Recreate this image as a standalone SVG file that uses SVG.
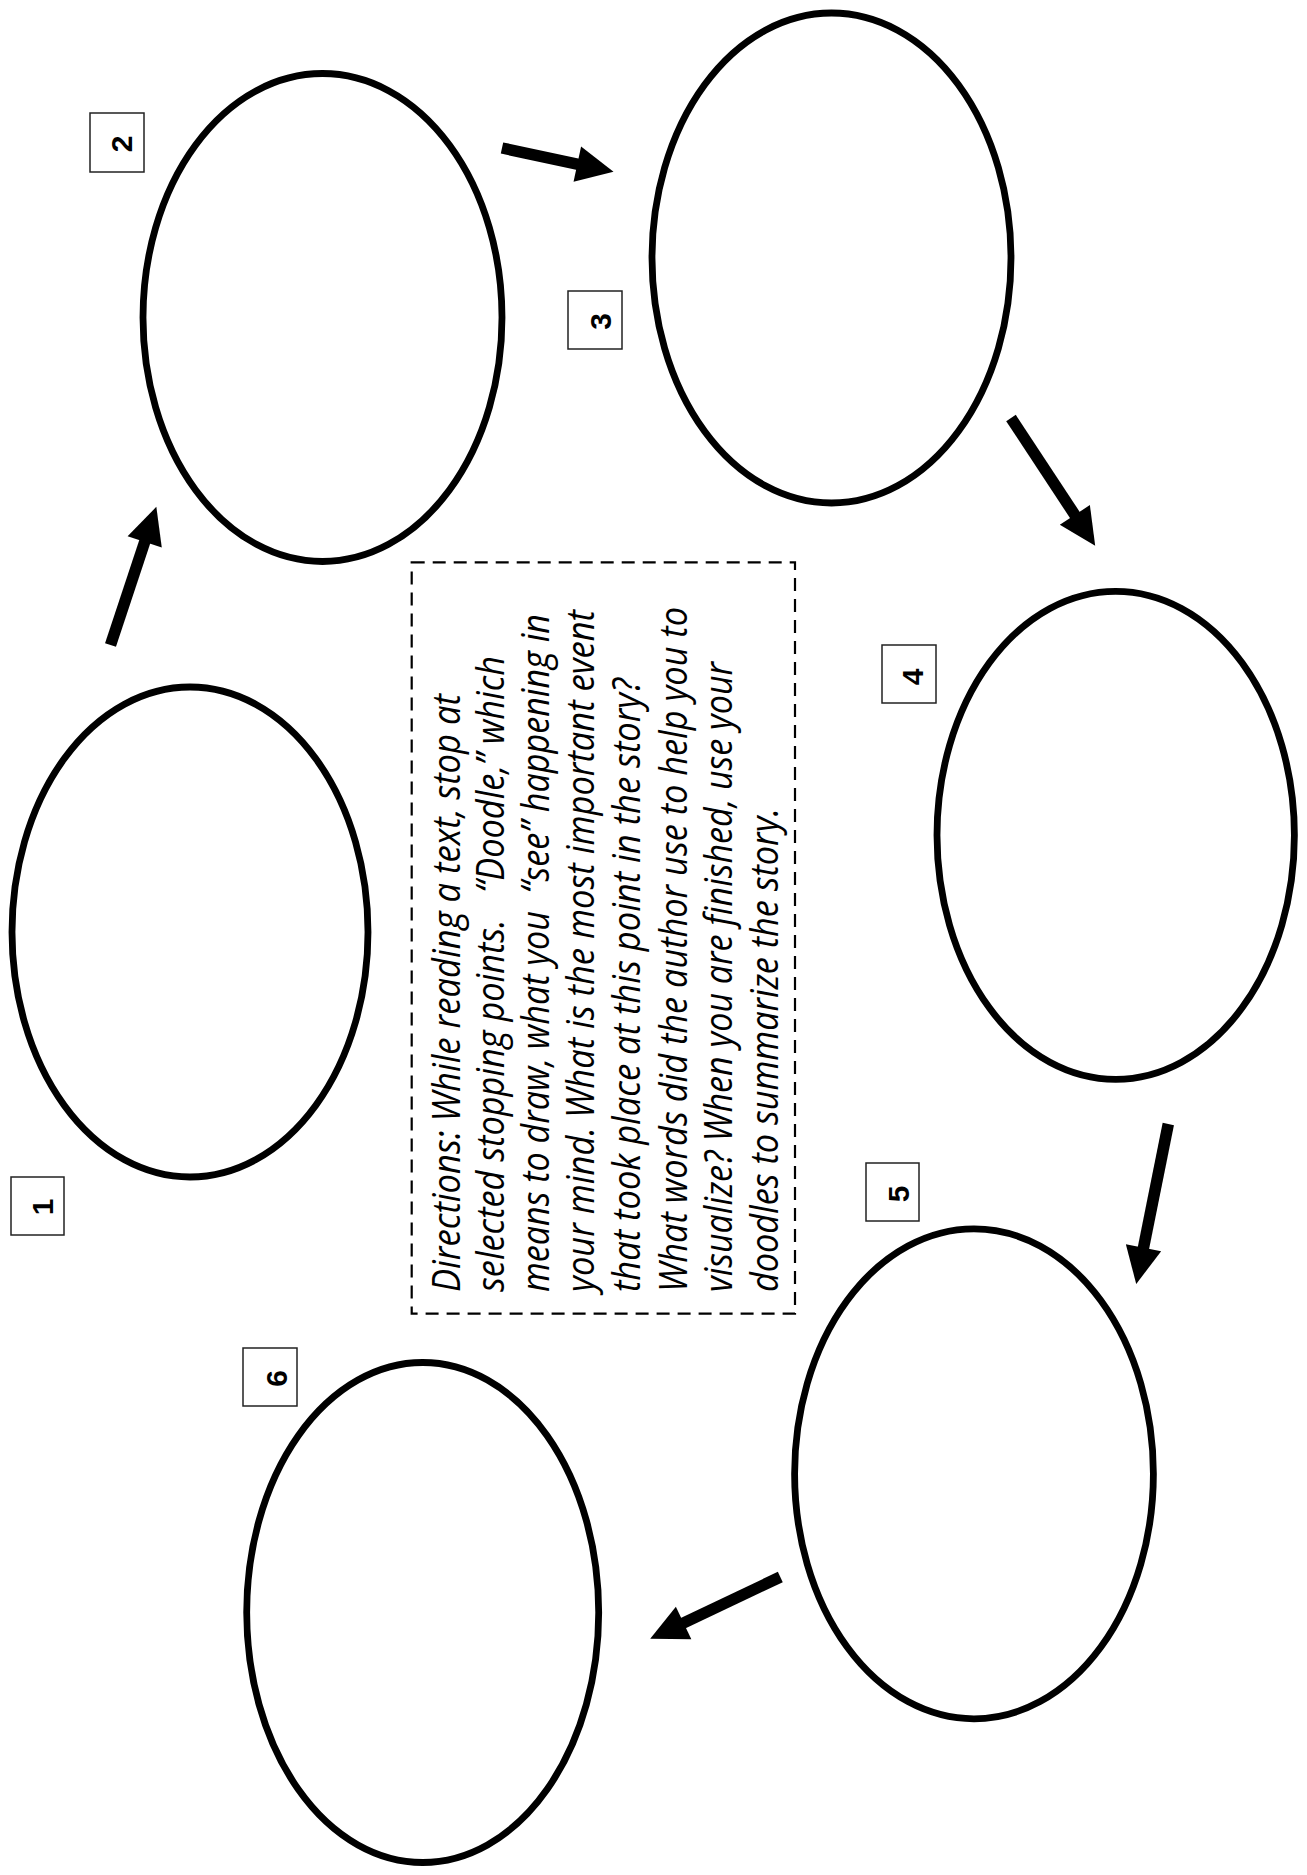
<svg xmlns="http://www.w3.org/2000/svg" width="1307" height="1875" viewBox="0 0 1307 1875">
  <style>
    .frame { fill: none; stroke: #000; stroke-width: 6.8; }
    .tag { fill: #fff; stroke: #222; stroke-width: 1.5; }
    .num { font-family: "Liberation Sans", Arial, sans-serif; font-weight: bold; font-size: 30px; fill: #000; text-anchor: middle; }
    .shaft { stroke: #000; stroke-width: 11.5; stroke-linecap: butt; fill: none; }
    .note { fill: none; stroke: #000; stroke-width: 2.2; stroke-dasharray: 13 8; }
    .dir { font-family: "Open Sans", Lato, "Liberation Sans", sans-serif; font-style: italic; font-size: 39px; fill: #000; }
  </style>
  <defs>
    <marker id="head" markerUnits="userSpaceOnUse" markerWidth="37" markerHeight="36" refX="1" refY="18" orient="auto" overflow="visible">
      <path d="M0,0 L37,18 L0,36 Z" fill="#000"/>
    </marker>
  </defs>

  <rect width="1307" height="1875" fill="#fff"/>

  <!-- doodle frames, each with its numbered tag -->
  <g id="node-1">
    <ellipse class="frame" cx="190" cy="932" rx="178" ry="245"/>
    <rect class="tag" x="11" y="1177" width="53" height="58"/>
    <text class="num" transform="translate(53 1207) rotate(-90)">1</text>
  </g>
  <g id="node-2">
    <ellipse class="frame" cx="322.5" cy="317.5" rx="179.5" ry="244"/>
    <rect class="tag" x="90" y="113" width="54" height="59"/>
    <text class="num" transform="translate(132 144) rotate(-90)">2</text>
  </g>
  <g id="node-3">
    <ellipse class="frame" cx="831.5" cy="258" rx="179.5" ry="245"/>
    <rect class="tag" x="568" y="291" width="54" height="58"/>
    <text class="num" transform="translate(611 321.5) rotate(-90)">3</text>
  </g>
  <g id="node-4">
    <ellipse class="frame" cx="1115.7" cy="835.3" rx="178.7" ry="244"/>
    <rect class="tag" x="882" y="645" width="54" height="58"/>
    <text class="num" transform="translate(923 677) rotate(-90)">4</text>
  </g>
  <g id="node-5">
    <ellipse class="frame" cx="974" cy="1473.8" rx="179.4" ry="245"/>
    <rect class="tag" x="866" y="1163" width="53" height="58"/>
    <text class="num" transform="translate(909 1194) rotate(-90)">5</text>
  </g>
  <g id="node-6">
    <ellipse class="frame" cx="422.7" cy="1612.5" rx="176" ry="250"/>
    <rect class="tag" x="243" y="1348" width="54" height="58"/>
    <text class="num" transform="translate(286.5 1378.5) rotate(-90)">6</text>
  </g>

  <!-- directions panel -->
  <g id="directions">
    <rect class="note" x="411.7" y="562.3" width="383.3" height="751.3"/>
    <text class="dir" xml:space="preserve" transform="translate(459.5 1292) rotate(-90)" textLength="598" lengthAdjust="spacingAndGlyphs">Directions: While reading a text, stop at</text>
    <text class="dir" xml:space="preserve" transform="translate(504 1292) rotate(-90)" textLength="636" lengthAdjust="spacingAndGlyphs">selected stopping points.   “Doodle,” which</text>
    <text class="dir" xml:space="preserve" transform="translate(549 1292) rotate(-90)" textLength="678" lengthAdjust="spacingAndGlyphs">means to draw, what you  “see” happening in</text>
    <text class="dir" xml:space="preserve" transform="translate(594 1292) rotate(-90)" textLength="682" lengthAdjust="spacingAndGlyphs">your mind. What is the most important event</text>
    <text class="dir" xml:space="preserve" transform="translate(640 1292) rotate(-90)" textLength="614" lengthAdjust="spacingAndGlyphs">that took place at this point in the story?</text>
    <text class="dir" xml:space="preserve" transform="translate(686.5 1292) rotate(-90)" textLength="685" lengthAdjust="spacingAndGlyphs">What words did the author use to help you to</text>
    <text class="dir" xml:space="preserve" transform="translate(732 1292) rotate(-90)" textLength="630" lengthAdjust="spacingAndGlyphs">visualize? When you are finished, use your</text>
    <text class="dir" xml:space="preserve" transform="translate(778 1292) rotate(-90)" textLength="484" lengthAdjust="spacingAndGlyphs">doodles to summarize the story.</text>
  </g>

  <!-- sequence arrows -->
  <g id="connectors">
    <line class="shaft" x1="110.5" y1="645" x2="145" y2="541" marker-end="url(#head)"/>
    <line class="shaft" x1="502" y1="148" x2="578.3" y2="164.3" marker-end="url(#head)"/>
    <line class="shaft" x1="1011" y1="418" x2="1075.4" y2="515.8" marker-end="url(#head)"/>
    <line class="shaft" x1="1168.3" y1="1124" x2="1143.3" y2="1248.7" marker-end="url(#head)"/>
    <line class="shaft" x1="780.3" y1="1577" x2="682.7" y2="1623.4" marker-end="url(#head)"/>
  </g>
</svg>
